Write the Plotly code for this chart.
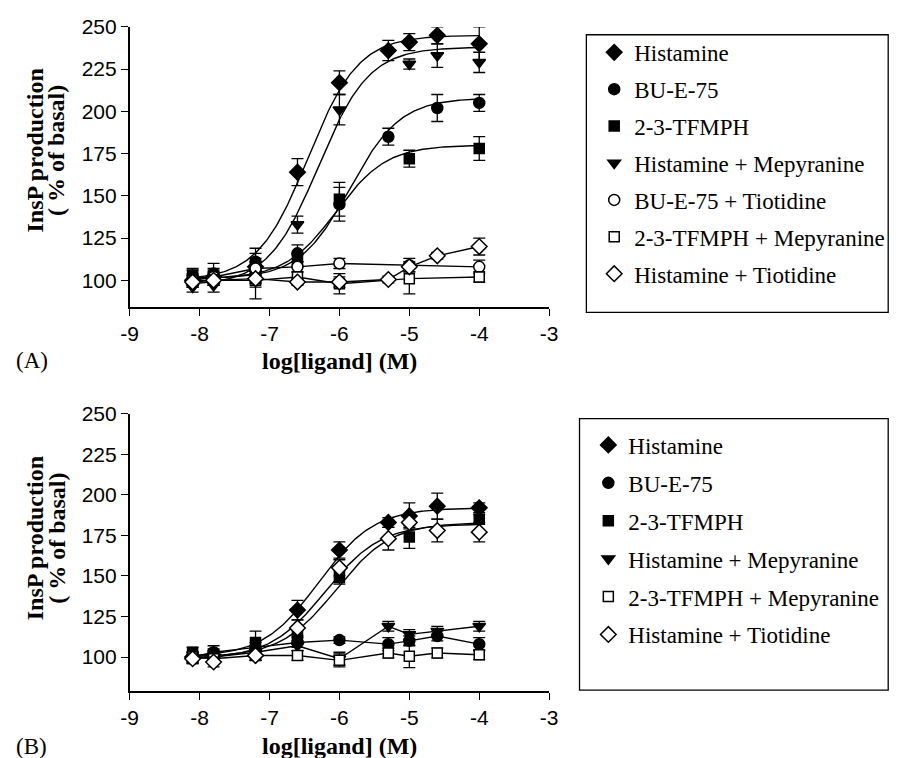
import numpy as np
import plotly.graph_objects as go

W, H = 899, 758

# ---------------- data ----------------
# Panel A
a_hist_x = [-8.1, -7.8, -7.2, -6.6, -6.0, -5.3, -5.0, -4.6, -4.0]
a_hist_y = [100, 102, 108, 164, 217, 236, 241, 245, 240]
a_hist_e = [4, 5, 8, 8, 7, 6, 5, 5, 10]

a_bue_x = [-8.1, -7.8, -7.2, -6.6, -6.0, -5.3, -4.6, -4.0]
a_bue_y = [101, 104, 111, 116, 145, 185, 202, 205]
a_bue_e = [5, 6, 8, 5, 10, 5, 8, 5]

a_tfm_x = [-8.1, -7.8, -7.2, -6.6, -6.0, -5.0, -4.0]
a_tfm_y = [103, 102, 101, 112, 148, 172, 178]
a_tfm_e = [4, 4, 12, 4, 10, 5, 7]

a_hmep_x = [-8.1, -7.8, -7.2, -6.6, -6.0, -5.0, -4.6, -4.0]
a_hmep_y = [96, 97, 104, 133, 201, 228, 233, 229]
a_hmep_e = [3, 4, 5, 5, 9, 3, 7, 6]

a_buet_x = [-8.1, -7.8, -7.2, -6.6, -6.0, -5.0, -4.0]
a_buet_y = [100, 102, 107, 108, 110, 109, 108]
a_buet_e = [3, 3, 4, 3, 3, 4, 4]

a_tfmm_x = [-8.1, -7.8, -7.2, -6.6, -6.0, -5.0, -4.0]
a_tfmm_y = [100, 100, 100, 102, 98, 101, 102]
a_tfmm_e = [3, 3, 4, 3, 6, 9, 3]

a_htio_x = [-8.1, -7.8, -7.2, -6.6, -6.0, -5.3, -5.0, -4.6, -4.0]
a_htio_y = [99, 100, 101, 99, 99, 100.5, 108, 114.5, 120]
a_htio_e = [3, 3, 3, 2, 3, 2, 3, 2, 5]

# Panel B
b_hist_x = [-8.1, -7.8, -7.2, -6.6, -6.0, -5.3, -5.0, -4.6, -4.0]
b_hist_y = [100, 101, 101, 129, 166, 183, 187, 193, 192]
b_hist_e = [3, 4, 3, 6, 5, 3, 8, 8, 3]

b_bue_x = [-8.1, -7.8, -7.2, -6.6, -6.0, -5.3, -5.0, -4.6, -4.0]
b_bue_y = [100, 103, 106, 109, 110.5, 108, 110, 113, 108]
b_bue_e = [3, 4, 3, 3, 2, 4, 3, 3, 4]

b_tfm_x = [-8.1, -7.8, -7.2, -6.6, -6.0, -5.0, -4.0]
b_tfm_y = [103, 101, 109, 112, 149, 174, 185]
b_tfm_e = [3, 3, 7, 4, 4, 7, 3]

b_hmep_x = [-8.1, -7.8, -7.2, -6.6, -6.0, -5.3, -5.0, -4.6, -4.0]
b_hmep_y = [99, 100, 103, 107, 99, 119, 114, 116, 119]
b_hmep_e = [3, 3, 3, 3, 4, 3, 3, 3, 3]

b_tfmm_x = [-8.1, -7.8, -7.2, -6.6, -6.0, -5.3, -5.0, -4.6, -4.0]
b_tfmm_y = [100, 99, 101, 101, 98, 102.5, 100.5, 102.5, 101.5]
b_tfmm_e = [3, 3, 3, 3, 4, 3, 7, 3, 3]

b_htio_x = [-8.1, -7.8, -7.2, -6.6, -6.0, -5.3, -5.0, -4.6, -4.0]
b_htio_y = [99, 97, 101, 118, 155, 173, 183, 178, 177]
b_htio_e = [3, 3, 3, 5, 5, 7, 3, 7, 6]

# fitted sigmoid parameters: (bottom, top, logEC50, hill)
a_fits = {
    "Histamine": (100, 245, -6.45, 1.2),
    "BU-E-75": (101, 208, -5.85, 1.2),
    "2-3-TFMPH": (101, 180, -6.05, 1.2),
    "Histamine + Mepyranine": (97, 238, -6.3, 1.2),
}
b_fits = {
    "Histamine": (100, 192, -6.3, 1.1),
    "2-3-TFMPH": (100, 183, -6.05, 1.1),
    "Histamine + Tiotidine": (99, 182, -6.2, 1.1),
}
fit_range = (-8.1, -4.0)

x_ticks = [-9, -8, -7, -6, -5, -4, -3]
x_tick_text = ["-9", "-8", "-7", "-6", "-5", "-4", "-3"]
y_ticks = [100, 125, 150, 175, 200, 225, 250]

# ---------------- styles ----------------
STY = {
    "Histamine": dict(symbol="diamond", color="black", size=12),
    "BU-E-75": dict(symbol="circle", color="black", size=11),
    "2-3-TFMPH": dict(symbol="square", color="black", size=10),
    "Histamine + Mepyranine": dict(symbol="triangle-down", color="black", size=11),
    "BU-E-75 + Tiotidine": dict(symbol="circle", color="white", size=11),
    "2-3-TFMPH + Mepyranine": dict(symbol="square", color="white", size=10),
    "Histamine + Tiotidine": dict(symbol="diamond", color="white", size=12),
}

fig = go.Figure()

def hill(p, xs):
    b, t, e, h = p
    xs = np.asarray(xs)
    return b + (t - b) / (1 + 10 ** ((e - xs) * h))

def add_panel(series, fits, xa, ya, leg, connected):
    xs = np.linspace(fit_range[0], fit_range[1], 200)
    for name, p in fits.items():
        fig.add_trace(go.Scatter(x=xs, y=hill(p, xs), mode="lines",
                                 line=dict(color="black", width=1.4),
                                 xaxis=xa, yaxis=ya, showlegend=False,
                                 hoverinfo="skip"))
    for name, (x, y, e) in series.items():
        if name in connected:
            fig.add_trace(go.Scatter(x=x, y=y, mode="lines",
                                     line=dict(color="black", width=1.4),
                                     xaxis=xa, yaxis=ya, showlegend=False,
                                     hoverinfo="skip"))
    for name, (x, y, e) in series.items():
        s = STY[name]
        fig.add_trace(go.Scatter(
            x=x, y=y, mode="markers", name=name,
            marker=dict(symbol=s["symbol"], size=s["size"], color=s["color"],
                        line=dict(color="black", width=1.5)),
            error_y=dict(type="data", array=e, color="black", thickness=1.3, width=6),
            xaxis=xa, yaxis=ya, legend=leg, legendgroup=leg + name))

series_a = {
    "Histamine": (a_hist_x, a_hist_y, a_hist_e),
    "BU-E-75": (a_bue_x, a_bue_y, a_bue_e),
    "2-3-TFMPH": (a_tfm_x, a_tfm_y, a_tfm_e),
    "Histamine + Mepyranine": (a_hmep_x, a_hmep_y, a_hmep_e),
    "BU-E-75 + Tiotidine": (a_buet_x, a_buet_y, a_buet_e),
    "2-3-TFMPH + Mepyranine": (a_tfmm_x, a_tfmm_y, a_tfmm_e),
    "Histamine + Tiotidine": (a_htio_x, a_htio_y, a_htio_e),
}
series_b = {
    "Histamine": (b_hist_x, b_hist_y, b_hist_e),
    "BU-E-75": (b_bue_x, b_bue_y, b_bue_e),
    "2-3-TFMPH": (b_tfm_x, b_tfm_y, b_tfm_e),
    "Histamine + Mepyranine": (b_hmep_x, b_hmep_y, b_hmep_e),
    "2-3-TFMPH + Mepyranine": (b_tfmm_x, b_tfmm_y, b_tfmm_e),
    "Histamine + Tiotidine": (b_htio_x, b_htio_y, b_htio_e),
}

add_panel(series_a, a_fits, "x", "y", "legend",
          ["BU-E-75 + Tiotidine", "2-3-TFMPH + Mepyranine", "Histamine + Tiotidine"])
add_panel(series_b, b_fits, "x2", "y2", "legend2",
          ["BU-E-75", "Histamine + Mepyranine", "2-3-TFMPH + Mepyranine"])

# ---------------- layout ----------------
OFF = 8  # page body margin
px = lambda v: (v - OFF) / W
py = lambda v: 1 - (v - OFF) / H

tickfont = dict(family="Liberation Sans, Arial", size=21, color="black")
axis_common = dict(showline=True, linecolor="black", linewidth=1.5, ticks="outside",
                   ticklen=7, tickwidth=1.3, tickcolor="black", showgrid=False,
                   zeroline=False, tickfont=tickfont)

xdom = [px(123), px(551)]
legfont = dict(family="Liberation Serif, Times New Roman", size=23, color="black")
fig.update_layout(
    width=W, height=H, margin=dict(l=0, r=0, t=0, b=0),
    paper_bgcolor="white", plot_bgcolor="white",
    xaxis=dict(domain=xdom, range=[-9, -3], tickvals=x_ticks, ticktext=x_tick_text,
               anchor="y", **axis_common),
    yaxis=dict(domain=[py(300), py(15)], range=[84, 250], tickvals=y_ticks, anchor="x",
               **axis_common),
    xaxis2=dict(domain=xdom, range=[-9, -3], tickvals=x_ticks, ticktext=x_tick_text,
                anchor="y2", **axis_common),
    yaxis2=dict(domain=[py(690), py(408)], range=[79, 250], tickvals=y_ticks, anchor="x2",
                **axis_common),
    legend=dict(x=px(597), y=py(19), xanchor="left", yanchor="top",
                borderwidth=0, bgcolor="rgba(0,0,0,0)", font=legfont,
                tracegroupgap=4, itemwidth=30),
    legend2=dict(x=px(591), y=py(418), xanchor="left", yanchor="top",
                 borderwidth=0, bgcolor="rgba(0,0,0,0)", font=legfont,
                 tracegroupgap=5, itemwidth=30),
)

# legend frames
shapes = []
for (x0, y0, x1, y1) in [(589, 23, 897, 305), (582, 413, 897, 689)]:
    shapes.append(dict(type="rect", xref="paper", yref="paper",
                       x0=px(x0), x1=px(x1), y0=py(y1), y1=py(y0),
                       line=dict(color="black", width=1.3), fillcolor="rgba(0,0,0,0)"))
fig.update_layout(shapes=shapes)

title_font = dict(family="Liberation Serif, Times New Roman", size=24, color="black")
ann = []
for yc, yx, lab in [(141, 354, "(A)"), (535, 746, "(B)")]:
    ann.append(dict(text="<b>InsP production</b>", textangle=-90,
                    x=px(26), y=py(yc), xref="paper", yref="paper", xanchor="center",
                    yanchor="middle", showarrow=False, font=title_font))
    ann.append(dict(text="<b>( % of basal)</b>", textangle=-90,
                    x=px(48), y=py(yc), xref="paper", yref="paper", xanchor="center",
                    yanchor="middle", showarrow=False, font=title_font))
    ann.append(dict(text="<b>log[ligand] (M)</b>", x=px(337), y=py(yx), xref="paper",
                    yref="paper", xanchor="center", yanchor="middle", showarrow=False,
                    font=title_font))
    ann.append(dict(text=lab, x=px(23), y=py(yx), xref="paper", yref="paper",
                    xanchor="center", yanchor="middle", showarrow=False,
                    font=dict(family="Liberation Serif, Times New Roman", size=23,
                              color="black")))
fig.update_layout(annotations=ann)

fig.write_html("out.html")
